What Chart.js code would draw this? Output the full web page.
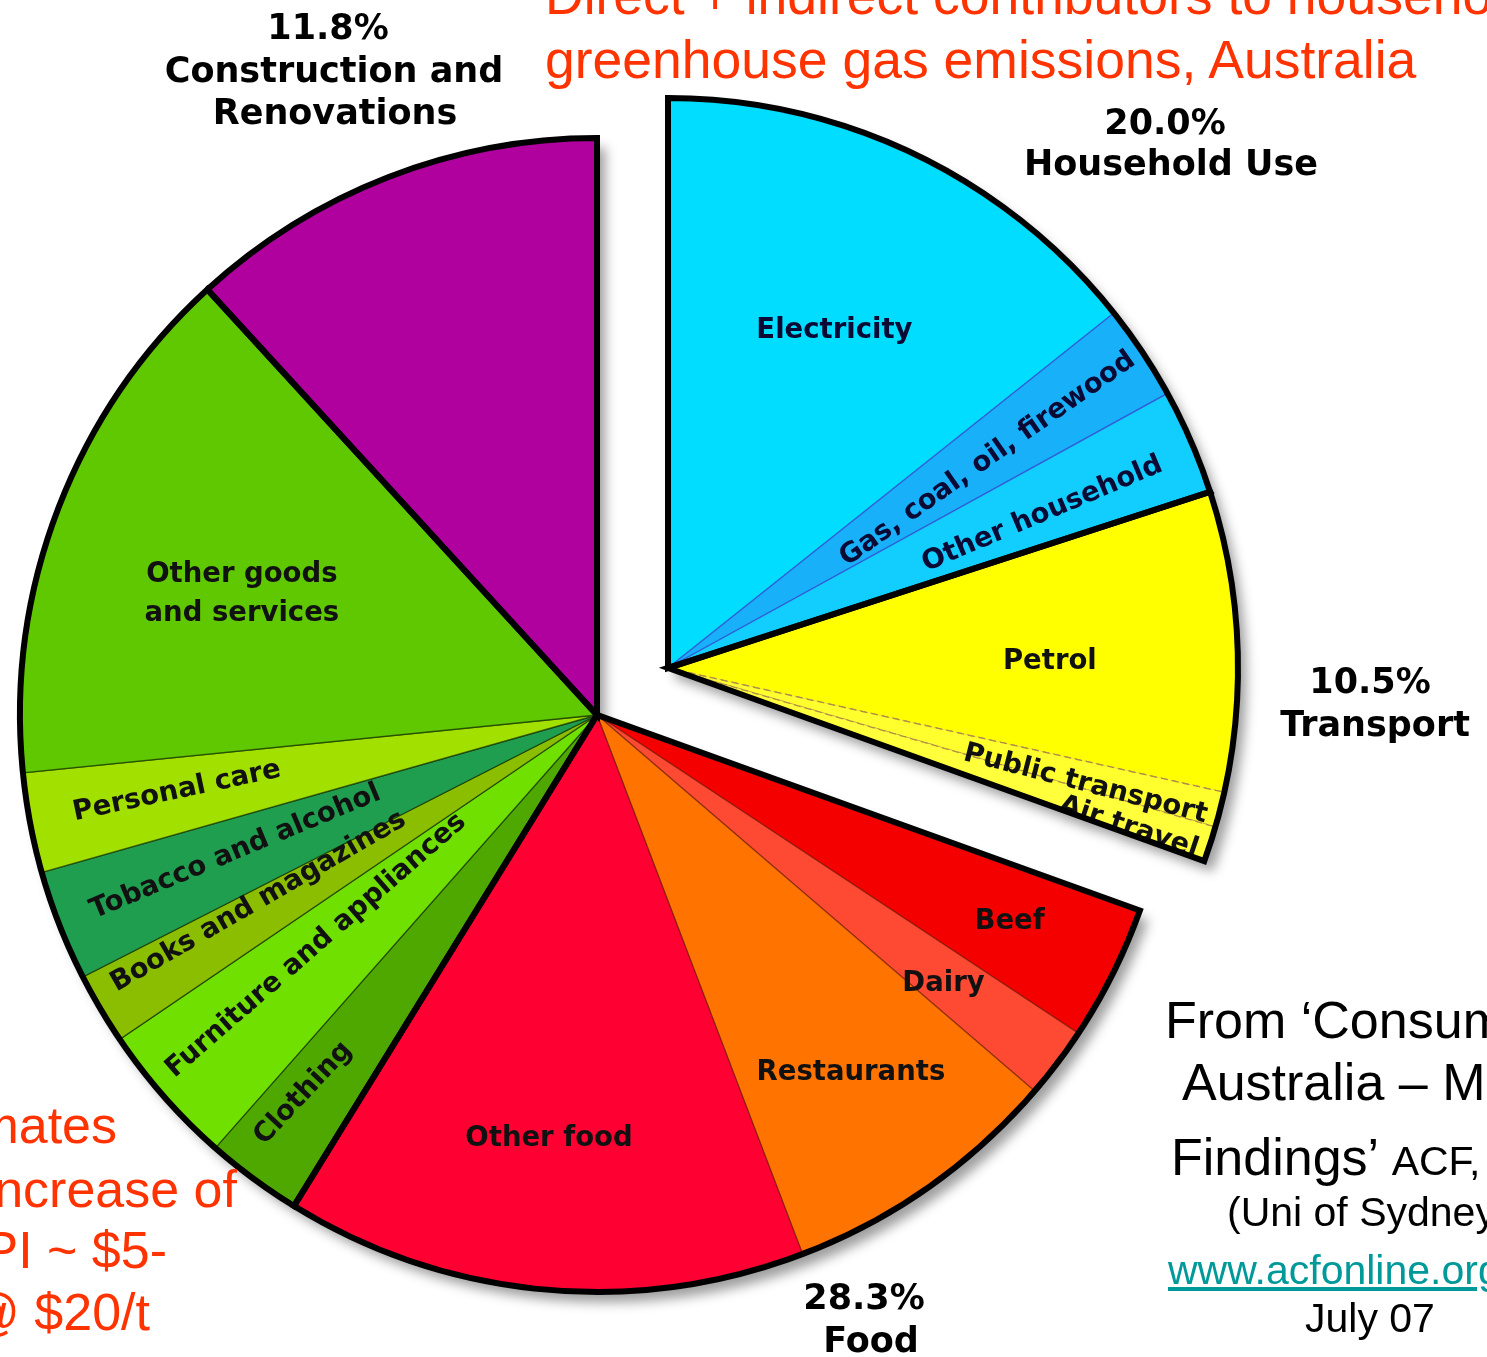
<!DOCTYPE html>
<html>
<head>
<meta charset="utf-8">
<script src="https://cdn.jsdelivr.net/npm/chart.js@4.4.1/dist/chart.umd.min.js"></script>
<style>
html,body{margin:0;padding:0;background:#fff;}
#stage{position:relative;width:1487px;height:1357px;overflow:hidden;background:#fff;}
#stage canvas{position:absolute;left:0;top:0;}
.shadow{filter:drop-shadow(8px 10px 6px rgba(0,0,0,0.38));}
.t{position:absolute;white-space:nowrap;font-family:"Liberation Sans",Arial,sans-serif;line-height:1;}
.red{color:#FF3300;font-size:53.5px;}
.blk{color:#000;}
.g{position:absolute;white-space:nowrap;font-family:"DejaVu Sans",Verdana,sans-serif;font-weight:bold;font-size:35px;line-height:1;color:#000;transform:translateX(-50%);}
.r{position:absolute;white-space:nowrap;font-family:"Liberation Sans",Arial,sans-serif;line-height:1;color:#FF3300;font-size:52px;}
a{color:#009999;text-decoration:underline;}
</style>
</head>
<body>
<div id="stage">
  <canvas id="mainFill" class="shadow" width="1487" height="1357"></canvas>
  <canvas id="explFill" class="shadow" width="1487" height="1357"></canvas>
  <canvas id="mainLine" width="1487" height="1357"></canvas>
  <canvas id="explLine" width="1487" height="1357"></canvas>

  <div class="t red" style="left:545px;top:-31px;">Direct + indirect contributors to household</div>
  <div class="t red" style="left:545px;top:33px;">greenhouse gas emissions, Australia</div>

  <div class="g" style="left:328px;top:10px;">11.8%</div>
  <div class="g" style="left:334px;top:53px;">Construction and</div>
  <div class="g" style="left:335px;top:95px;">Renovations</div>
  <div class="g" style="left:1165px;top:105px;">20.0%</div>
  <div class="g" style="left:1171px;top:146px;">Household Use</div>
  <div class="g" style="left:1370px;top:664px;">10.5%</div>
  <div class="g" style="left:1375px;top:707px;">Transport</div>
  <div class="g" style="left:864px;top:1280px;">28.3%</div>
  <div class="g" style="left:871px;top:1323px;">Food</div>

  <div class="r" style="right:1370px;top:1099px;">estimates</div>
  <div class="r" style="right:1250px;top:1163px;">increase of</div>
  <div class="r" style="right:1320px;top:1224px;">CPI ~ $5-</div>
  <div class="r" style="right:1337px;top:1286px;">@ $20/t</div>

  <div class="t blk" style="left:1165px;top:994px;font-size:52px;">From ‘Consumer Atlas</div>
  <div class="t blk" style="left:1182px;top:1056px;font-size:52px;">Australia – Main</div>
  <div class="t blk" style="left:1171px;top:1131px;font-size:52px;">Findings’ <span style="font-size:41px;">ACF, 2007</span></div>
  <div class="t blk" style="left:1227px;top:1192px;font-size:41px;">(Uni of Sydney)</div>
  <div class="t" style="left:1168px;top:1250px;font-size:41px;"><a>www.acfonline.org.au</a></div>
  <div class="t blk" style="left:1305px;top:1298px;font-size:41px;">July 07</div>
</div>

<script>
// ---------- data ----------
const categories = ['Electricity','Gas, coal, oil, firewood','Other household','Petrol','Public transport','Air travel','Beef','Dairy','Restaurants','Other food','Clothing','Furniture and appliances','Books and magazines','Tobacco and alcohol','Personal care','Other goods and services','Construction and Renovations'];
const values = [14.3, 2.7, 3.0, 8.5, 1.0, 1.0, 3.8, 2.0, 7.9, 14.6, 2.7, 4.0, 2.0, 3.1, 2.8, 14.8, 11.8];
const groupNames = ['Household Use','Transport','Food','Other goods and services','Construction and Renovations'];
const groupValues = [20.0, 10.5, 28.3, 29.4, 11.8];
const groupOf = [0,0,0,1,1,1,2,2,2,2,3,3,3,3,3,3,4];
const explodedGroups = [0,1];
const sliceLabelText = ['Electricity','Gas, coal, oil, firewood','Other household','Petrol','Public transport','Air travel','Beef','Dairy','Restaurants','Other food','Clothing','Furniture and appliances','Books and magazines','Tobacco and alcohol','Personal care','Other goods\nand services',''];

// ---------- styles / layout ----------
const sliceColors = ['#00DDFF','#19B0FA','#12CEFF','#FFFF00','#FFFF2E','#FFFF3C','#F40000','#FF4A33','#FF7300','#FF0033','#4FA800','#70E000','#8CBE00','#1F9E50','#A2E000','#60C800','#B0009E'];
const sepColors = ['#2F62D8','#2F62D8','#2F62D8','#B08A48','#B08A48','#B08A48','rgba(100,20,0,0.55)','rgba(100,20,0,0.55)','rgba(100,20,0,0.55)','rgba(100,20,0,0.55)','rgba(20,50,0,0.7)','rgba(20,50,0,0.7)','rgba(20,50,0,0.7)','rgba(20,50,0,0.7)','rgba(20,50,0,0.7)','rgba(20,50,0,0.7)','rgba(0,0,0,0.5)'];
// [fraction along arc, fraction of radius, rotation deg]
const labelPlace = [
  [0.51,0.66,0],[0.55,0.67,-35],[0.60,0.71,-23],
  [0.56,0.67,0],[0.82,0.76,14.5],[0.80,0.855,18.5],
  [0.50,0.80,0],[0.60,0.76,0],[0.49,0.76,0],[0.52,0.74,0],
  [0.63,0.83,-47],[0.64,0.63,-41],[0.74,0.67,-30],[0.56,0.67,-22.6],[0.55,0.74,-12],[0.46,0.65,0],
  [0.5,0.5,0]
];
const W = 1487, H = 1357;
const MAIN = {cx:597, cy:715, r:577};
const EXPL = {cx:668, cy:668, r:570};

function padFor(c){
  return {left:Math.max(0,2*c.cx-W), right:Math.max(0,W-2*c.cx), top:Math.max(0,2*c.cy-H), bottom:Math.max(0,H-2*c.cy)};
}

const sliceLabels = {
  id:'sliceLabels',
  afterDatasetsDraw(chart, args, opts){
    const groups = opts.groups || [];
    const meta = chart.getDatasetMeta(0);
    const ctx = chart.ctx;
    meta.data.forEach((arc, i) => {
      if (groups.indexOf(groupOf[i]) < 0) return;
      const txt = sliceLabelText[i];
      if (!txt) return;
      const p = labelPlace[i];
      const pr = arc.getProps(['x','y','startAngle','endAngle','outerRadius'], true);
      const a = pr.startAngle + p[0]*(pr.endAngle - pr.startAngle);
      const rr = p[1]*pr.outerRadius;
      ctx.save();
      ctx.translate(pr.x + rr*Math.cos(a), pr.y + rr*Math.sin(a));
      ctx.rotate(p[2]*Math.PI/180);
      ctx.font = 'bold 27.5px "DejaVu Sans", Verdana, sans-serif';
      ctx.textAlign = 'center';
      ctx.textBaseline = 'middle';
      ctx.fillStyle = groupOf[i] === 0 ? '#0a0a35' : '#111';
      const lines = txt.split('\n');
      lines.forEach((ln, k) => ctx.fillText(ln, 0, (k - (lines.length-1)/2)*39));
      ctx.restore();
    });
  }
};

function fillChart(id, ctr, visibleGroups){
  const vis = i => visibleGroups.indexOf(groupOf[i]) >= 0;
  return new Chart(document.getElementById(id), {
    type:'pie',
    data:{labels:categories, datasets:[{
      data: values,
      backgroundColor: values.map((v,i)=> vis(i) ? sliceColors[i] : 'rgba(0,0,0,0)'),
      borderColor: values.map((v,i)=> sepColors[i]),
      borderWidth: values.map((v,i)=> vis(i) ? 1.3 : 0),
      borderDash: (c)=> groupOf[c.dataIndex]===1 ? [7,4] : [],
      borderJoinStyle:'miter',
      hoverOffset:0, offset:0, clip:false
    }]},
    options:{
      responsive:false, animation:false, events:[],
      radius: ctr.r,
      layout:{padding:padFor(ctr)},
      plugins:{legend:{display:false}, tooltip:{enabled:false}, sliceLabels:{groups:visibleGroups}}
    },
    plugins:[sliceLabels]
  });
}

function outlineChart(id, ctr, visibleGroups){
  const vis = i => visibleGroups.indexOf(i) >= 0;
  return new Chart(document.getElementById(id), {
    type:'pie',
    data:{labels:groupNames, datasets:[{
      data: groupValues,
      backgroundColor: groupValues.map(()=> 'rgba(0,0,0,0)'),
      borderColor: '#000',
      borderWidth: groupValues.map((v,i)=> vis(i) ? 6 : 0),
      borderJoinStyle:'miter',
      hoverOffset:0, offset:0, clip:false
    }]},
    options:{
      responsive:false, animation:false, events:[],
      radius: ctr.r,
      layout:{padding:padFor(ctr)},
      plugins:{legend:{display:false}, tooltip:{enabled:false}}
    }
  });
}

const others = [2,3,4];
fillChart('mainFill', MAIN, others);
fillChart('explFill', EXPL, explodedGroups);
outlineChart('mainLine', MAIN, others);
outlineChart('explLine', EXPL, explodedGroups);
</script>
</body>
</html>
